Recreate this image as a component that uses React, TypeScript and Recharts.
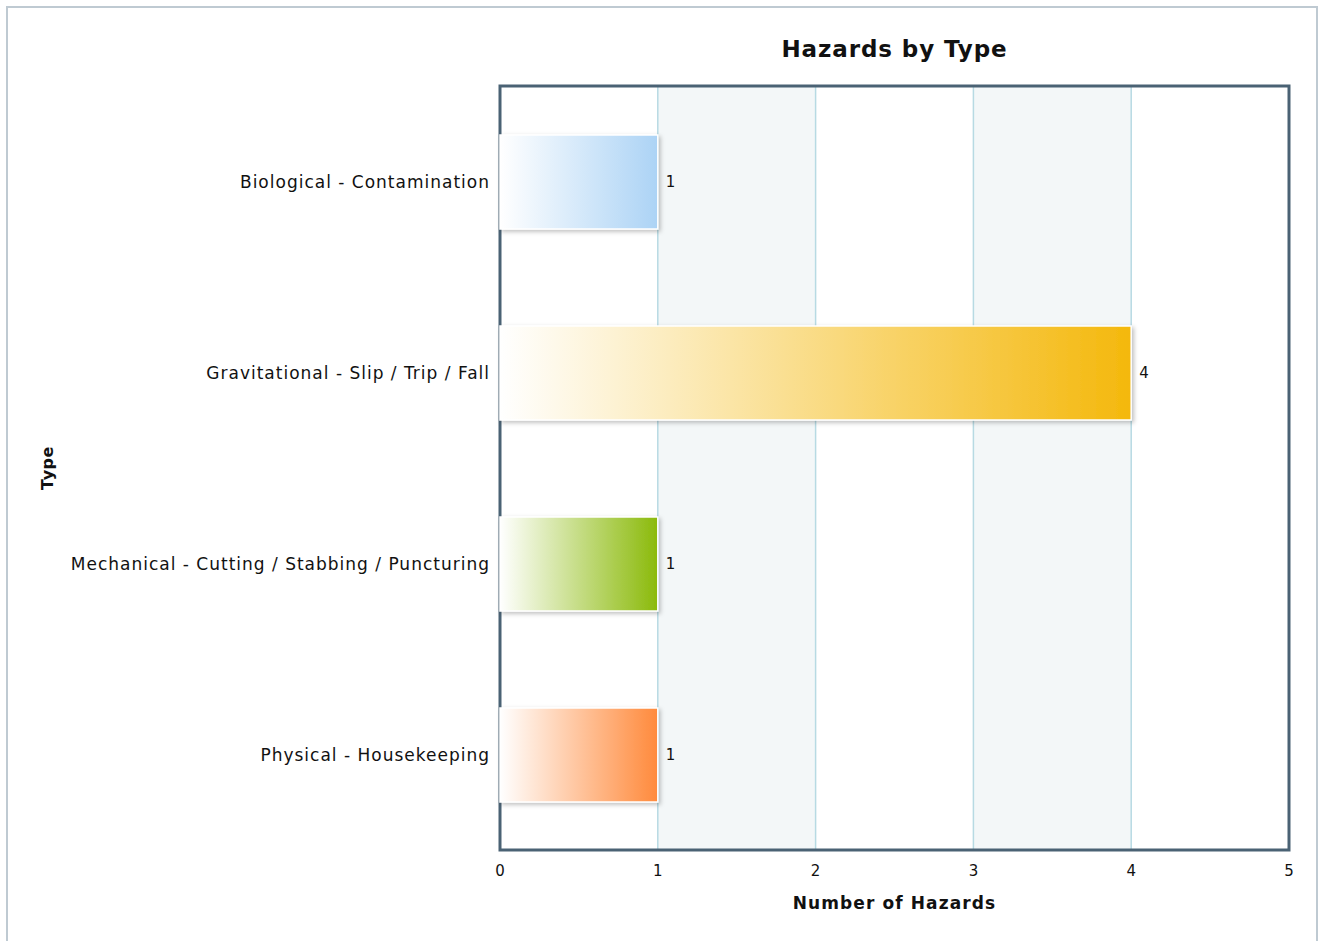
import React from 'react';
import { BarChart, Bar, XAxis, YAxis, CartesianGrid, Cell, LabelList, ReferenceArea } from 'recharts';

const categories = [
  'Biological - Contamination',
  'Gravitational - Slip / Trip / Fall',
  'Mechanical - Cutting / Stabbing / Puncturing',
  'Physical - Housekeeping',
];
const hazardCounts = [1, 4, 1, 1];
const barColors = ['#acd3f5', '#f4b80c', '#8bba0b', '#ff8a3c'];
const xTicks = [0, 1, 2, 3, 4, 5];

const data = categories.map((name, i) => ({ name, value: hazardCounts[i] }));

const FONT = '"DejaVu Sans", Verdana, sans-serif';

export default function App() {
  return (
    <div style={{ position: 'absolute', left: 0, top: 0, width: 1322, height: 941, background: '#fff', fontFamily: FONT }}>
      <div style={{ position: 'absolute', left: 6, top: 6, width: 1312, height: 940, border: '2px solid #bfcad2', boxSizing: 'border-box' }} />
      <div style={{ position: 'absolute', left: 500, width: 789, top: 36, textAlign: 'center', fontWeight: 'bold', fontSize: 23, letterSpacing: 0.9, color: '#111' }}>
        Hazards by Type
      </div>
      <div style={{ position: 'absolute', left: 0, top: 0 }}>
        <BarChart
          width={1322}
          height={941}
          data={data}
          layout="vertical"
          barSize={94}
          margin={{ top: 86, right: 33, bottom: 0, left: 0 }}
        >
          <defs>
            {barColors.map((c, i) => (
              <linearGradient key={i} id={`grad${i}`} x1="0" y1="0" x2="1" y2="0">
                <stop offset="0%" stopColor="#ffffff" />
                <stop offset="100%" stopColor={c} />
              </linearGradient>
            ))}
            <filter id="shadow" x="-10%" y="-10%" width="130%" height="130%">
              <feDropShadow dx="2" dy="2" stdDeviation="2" floodColor="#000" floodOpacity="0.25" />
            </filter>
          </defs>
          <CartesianGrid
            horizontal={false}
            stroke="#b7dae3"
            strokeWidth={1.5}
            verticalFill={['#ffffff', '#f3f7f8']}
          />
          <XAxis
            type="number"
            domain={[0, 5]}
            ticks={xTicks}
            height={91}
            tickLine={false}
            axisLine={false}
            tickMargin={9}
            tick={{ fontSize: 15, fill: '#111', fontFamily: FONT }}
            label={{ value: 'Number of Hazards', position: 'insideBottom', offset: 32, fontSize: 17, fontWeight: 'bold', fill: '#111', fontFamily: FONT, style: { letterSpacing: 1.1 } }}
          />
          <YAxis
            type="category"
            dataKey="name"
            width={500}
            tickLine={false}
            axisLine={false}
            tickMargin={4}
            tick={{ fontSize: 17, fill: '#111', fontFamily: FONT, style: { letterSpacing: 1 } }}
            label={{ value: 'Type', angle: -90, position: 'insideLeft', offset: 47, fontSize: 16, fontWeight: 'bold', fill: '#111', fontFamily: FONT, style: { textAnchor: 'middle', letterSpacing: 0.5 } }}
          />
          <Bar dataKey="value" isAnimationActive={false} stroke="#ffffff" strokeWidth={1.5} filter="url(#shadow)">
            {data.map((d, i) => (
              <Cell key={d.name} fill={`url(#grad${i})`} />
            ))}
            <LabelList dataKey="value" position="right" offset={8} style={{ fontSize: 15, fill: '#111', fontFamily: FONT }} />
          </Bar>
          <ReferenceArea x1={0} x2={5} fill="none" stroke="#4a6274" strokeWidth={3} ifOverflow="visible" />
        </BarChart>
      </div>
    </div>
  );
}
